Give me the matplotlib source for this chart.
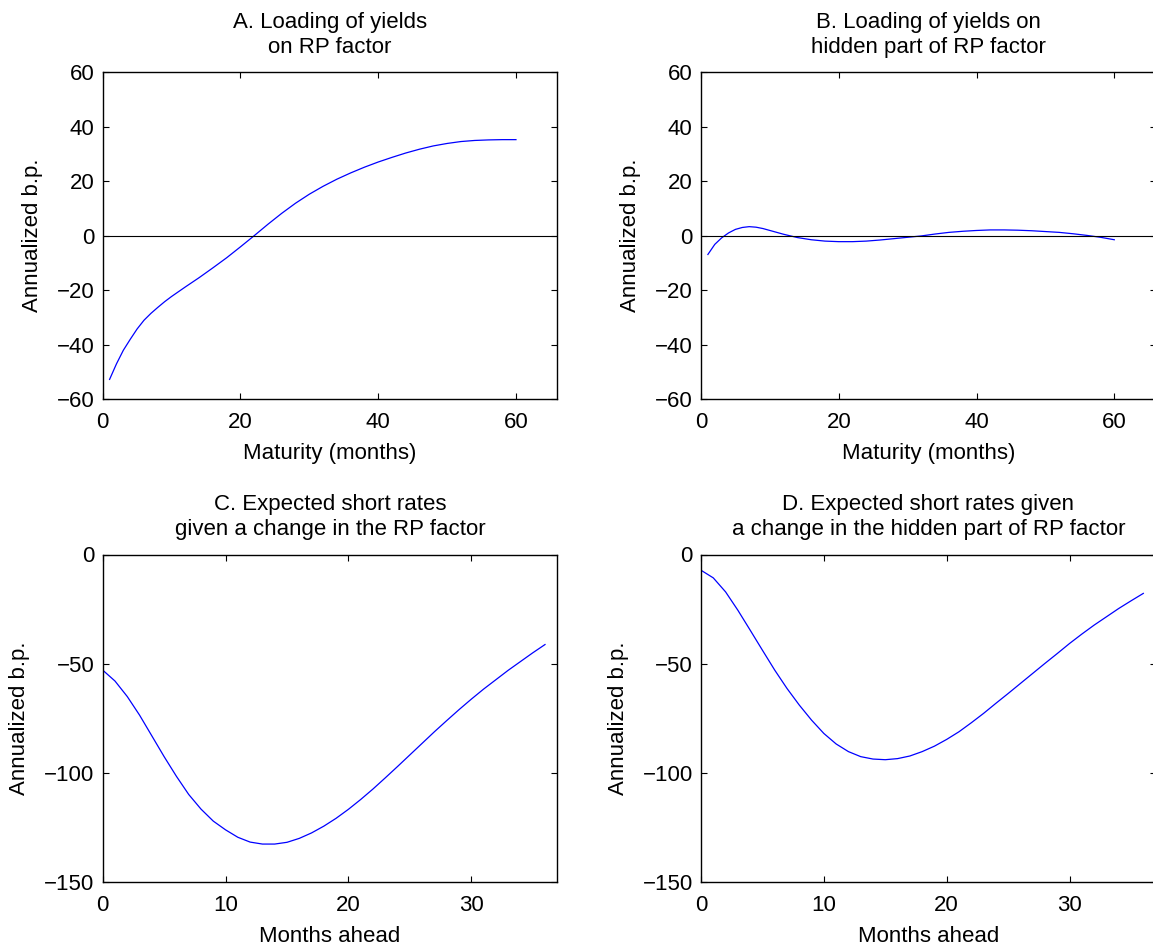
import matplotlib
matplotlib.use("Agg")
import matplotlib.pyplot as plt

plt.rcParams['font.family'] = ['Liberation Sans', 'DejaVu Sans']
FS = 16
plt.rcParams['font.size'] = FS

# Panel A: loading of yields on RP factor
mat_a = [1, 2, 3, 4, 5, 6, 7, 8, 9, 10, 12, 14, 16, 18, 20, 22, 24, 26, 28, 30,
         32, 34, 36, 38, 40, 42, 44, 46, 48, 50, 52, 54, 56, 58, 60]
load_a = [-52.7, -47.0, -42.0, -38.0, -34.2, -31.0, -28.5, -26.3, -24.2, -22.3,
          -18.8, -15.4, -11.8, -8.1, -4.1, 0.0, 4.2, 8.2, 11.9, 15.2,
          18.1, 20.7, 23.0, 25.1, 27.0, 28.7, 30.3, 31.7, 32.9, 33.8,
          34.5, 34.9, 35.1, 35.2, 35.2]

# Panel B: loading of yields on hidden part of RP factor
mat_b = [1, 2, 3, 4, 5, 6, 7, 8, 9, 10, 11, 12, 13, 14, 16, 18, 20, 22, 24, 26,
         28, 30, 32, 34, 36, 38, 40, 42, 44, 46, 48, 50, 52, 54, 56, 58, 60]
load_b = [-6.9, -3.2, -0.8, 1.0, 2.3, 3.0, 3.3, 3.1, 2.6, 1.9, 1.2, 0.5, -0.1,
          -0.7, -1.5, -2.0, -2.2, -2.2, -2.0, -1.6, -1.1, -0.6, -0.1, 0.6, 1.2,
          1.6, 1.9, 2.1, 2.1, 2.0, 1.8, 1.5, 1.2, 0.7, 0.1, -0.6, -1.5]

# Panels C, D: expected short rates, months ahead
months = list(range(0, 37))
short_c = [-52.9, -57.9, -65.0, -73.5, -83.0, -92.5, -101.5, -109.8, -116.5,
           -122.0, -126.0, -129.4, -131.6, -132.5, -132.5, -131.7, -129.9,
           -127.4, -124.3, -120.7, -116.6, -112.1, -107.3, -102.2, -97.0,
           -91.7, -86.4, -81.1, -76.0, -71.0, -66.2, -61.6, -57.3, -53.0,
           -49.0, -45.0, -41.2]
short_d = [-7.2, -10.7, -17.1, -25.5, -34.6, -43.8, -52.9, -61.3, -68.9, -75.8,
           -81.9, -86.7, -90.2, -92.5, -93.6, -93.9, -93.4, -92.2, -90.2, -87.7,
           -84.6, -81.1, -77.0, -72.7, -68.1, -63.6, -59.0, -54.4, -49.8, -45.3,
           -40.7, -36.4, -32.3, -28.5, -24.7, -21.2, -17.8]

titles = ["A. Loading of yields\non RP factor",
          "B. Loading of yields on\nhidden part of RP factor",
          "C. Expected short rates\ngiven a change in the RP factor",
          "D. Expected short rates given\na change in the hidden part of RP factor"]
xlabels = ["Maturity (months)", "Maturity (months)", "Months ahead", "Months ahead"]
ylabel = "Annualized b.p."
xticks_top = [0, 20, 40, 60]
yticks_top = [-60, -40, -20, 0, 20, 40, 60]
xticks_bot = [0, 10, 20, 30]
yticks_bot = [-150, -100, -50, 0]

W, H = 1153, 946
fig = plt.figure(figsize=(W / 100, H / 100), dpi=100)

def px_axes(x0, y0, x1, y1):
    return fig.add_axes([x0 / W, 1 - y1 / H, (x1 - x0) / W, (y1 - y0) / H])

axA = px_axes(102.7, 72, 557.3, 399.3)
axB = px_axes(701, 72, 1155.6, 399.3)
axC = px_axes(102.7, 554.5, 557.3, 882.3)
axD = px_axes(701, 554.5, 1155.6, 882.3)

blue = (0, 0, 1)
axA.plot(mat_a, load_a, color=blue, lw=0.9)
axB.plot(mat_b, load_b, color=blue, lw=0.9)
axC.plot(months, short_c, color=blue, lw=0.9)
axD.plot(months, short_d, color=blue, lw=0.9)

for ax in (axA, axB):
    ax.axhline(0, color='black', lw=0.8)
    ax.set_xlim(0, 66)
    ax.set_ylim(-60, 60)
    ax.set_xticks(xticks_top)
    ax.set_yticks(yticks_top)
for ax in (axC, axD):
    ax.set_xlim(0, 37)
    ax.set_ylim(-150, 0)
    ax.set_xticks(xticks_bot)
    ax.set_yticks(yticks_bot)

for ax, t, xl in zip((axA, axB, axC, axD), titles, xlabels):
    ax.set_title(t, fontsize=FS, pad=14, linespacing=1.25)
    ax.set_xlabel(xl, fontsize=FS, labelpad=7)
    ax.set_ylabel(ylabel, fontsize=FS, labelpad=10)
    ax.tick_params(direction='in', length=4, width=0.8, top=True, right=True,
                   labelsize=FS)
    ax.tick_params(axis='x', pad=9)
    ax.tick_params(axis='y', pad=6)
    for s in ax.spines.values():
        s.set_linewidth(1.0)

fig.savefig("out.png", dpi=100)
